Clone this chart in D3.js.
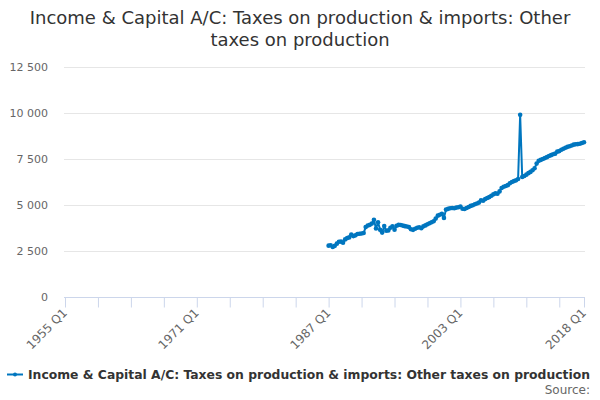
<!DOCTYPE html>
<html>
<head>
<meta charset="utf-8">
<script src="https://cdn.jsdelivr.net/npm/d3@7"></script>
<style>
    body { margin: 0; background: #fff; }
    text { font-family: "DejaVu Sans", sans-serif; }
</style>
</head>
<body>
<svg id="chart" width="600" height="400"></svg>
<script>
    // quarters 1955 Q1 .. 2018 Q1
    const years = d3.range(1955, 2019);
    const quarters = [];
    years.forEach((yr) => {
        ["Q1", "Q2", "Q3", "Q4"].forEach((q) => {
            if (yr < 2018 || q === "Q1") quarters.push(yr + " " + q);
        });
    });

    const firstQuarter = "1987 Q1";

    // values from 1987 Q1 onward (£ million)
    const values = [
        2790, 2810, 2720, 2780, 2900, 3000, 3010, 2950, 3130, 3200,
        3240, 3390, 3310, 3350, 3420, 3440, 3450, 3480, 3800, 3880,
        3920, 3990, 4200, 3720, 4060, 3650, 3500, 3860, 3600, 3620,
        3760, 3840, 3660, 3870, 3920, 3910, 3880, 3850, 3830, 3800,
        3680, 3650, 3710, 3760, 3790, 3740, 3840, 3890, 3950, 4010,
        4060, 4120, 4260, 4420, 4470, 4520, 4300, 4750, 4790, 4820,
        4840, 4820, 4860, 4880, 4920, 4800, 4780, 4840, 4890, 4950,
        4990, 5040, 5080, 5130, 5260, 5230, 5320, 5380, 5430, 5500,
        5580, 5630, 5610, 5740, 5920, 5990, 6030, 6080, 6180, 6250,
        6300, 6340, 6410, 9900, 6520, 6580, 6650, 6730, 6800, 6890,
        7000, 7250, 7400, 7450, 7500, 7550, 7600, 7660, 7710, 7760,
        7790, 7900, 7930, 8000, 8060, 8110, 8160, 8190, 8230, 8280,
        8300, 8310, 8330, 8370, 8410
    ];

    const yTicks = [0, 2500, 5000, 7500, 10000, 12500];
    const xLabels = ["1955 Q1", "1971 Q1", "1987 Q1", "2003 Q1", "2018 Q1"];

    const seriesName = "Income & Capital A/C: Taxes on production & imports: Other taxes on production";
    const titleLines = [
        "Income & Capital A/C: Taxes on production & imports: Other",
        "taxes on production"
    ];

    const start = quarters.indexOf(firstQuarter);
    const data = values.map((v, i) => ({ q: quarters[start + i], v: v }));

    const svg = d3.select("#chart");
    const plotLeft = 65, plotRight = 584, plotTop = 67, plotBottom = 297;
    const color = "#0076bf";

    const x = d3.scalePoint().domain(quarters).range([plotLeft, plotRight]);
    const y = d3.scaleLinear().domain([0, 12500]).range([plotBottom, plotTop]);

    // title
    svg.append("text")
        .attr("x", 300)
        .attr("y", 24)
        .attr("text-anchor", "middle")
        .style("font-size", "18px")
        .style("fill", "#333")
        .selectAll("tspan")
        .data(titleLines)
        .join("tspan")
        .attr("x", 300)
        .attr("dy", (d, i) => (i === 0 ? 0 : 22))
        .text((d) => d);

    // gridlines + y labels
    svg.append("g")
        .selectAll("line")
        .data(yTicks.filter((d) => d > 0))
        .join("line")
        .attr("x1", plotLeft - 1)
        .attr("x2", plotRight + 1)
        .attr("y1", (d) => Math.round(y(d)) + 0.5)
        .attr("y2", (d) => Math.round(y(d)) + 0.5)
        .attr("stroke", "#e6e6e6");

    const fmt = (d) => d3.format(",")(d).replace(/,/g, " ");
    svg.append("g")
        .selectAll("text")
        .data(yTicks)
        .join("text")
        .attr("x", 48)
        .attr("y", (d) => y(d) + 4)
        .attr("text-anchor", "end")
        .style("font-size", "11px")
        .style("fill", "#666")
        .text(fmt);

    // x axis
    const tickQuarters = quarters.filter((q, i) => i % 16 === 0 || i === quarters.length - 1);
    const xAxis = d3.axisBottom(x)
        .tickValues(tickQuarters)
        .tickSize(10)
        .tickFormat((d) => (xLabels.includes(d) ? d : ""));

    const gx = svg.append("g")
        .attr("transform", `translate(0,${plotBottom + 0.5})`)
        .call(xAxis);
    gx.select(".domain").attr("stroke", "#ccd6eb").attr("d", `M${plotLeft - 1},0H${plotRight + 1}`);
    gx.selectAll(".tick line").attr("stroke", "#ccd6eb");
    gx.selectAll(".tick text")
        .attr("text-anchor", "end")
        .attr("transform", "translate(-2,6) rotate(-45)")
        .attr("dy", "0.35em")
        .attr("y", 6)
        .attr("x", -4)
        .style("font-family", "DejaVu Sans, sans-serif")
        .style("font-size", "12px")
        .style("fill", "#666");

    // series line
    const line = d3.line()
        .x((d) => x(d.q))
        .y((d) => y(d.v));

    svg.append("path")
        .datum(data)
        .attr("d", line)
        .attr("fill", "none")
        .attr("stroke", color)
        .attr("stroke-width", 2)
        .attr("stroke-linejoin", "round");

    svg.append("g")
        .selectAll("circle")
        .data(data)
        .join("circle")
        .attr("cx", (d) => x(d.q))
        .attr("cy", (d) => y(d.v))
        .attr("r", 2.3)
        .attr("fill", color);

    // legend
    const lg = svg.append("g").attr("transform", "translate(0,374)");
    lg.append("line")
        .attr("x1", 7).attr("x2", 23)
        .attr("y1", 0.5).attr("y2", 0.5)
        .attr("stroke", color).attr("stroke-width", 2);
    lg.append("circle").attr("cx", 15).attr("cy", 0.5).attr("r", 2).attr("fill", color);
    lg.append("text")
        .attr("x", 28)
        .attr("y", 5)
        .style("font-size", "12px")
        .style("font-weight", "bold")
        .style("fill", "#333")
        .attr("textLength", 562)
        .attr("lengthAdjust", "spacingAndGlyphs")
        .text(seriesName);

    svg.append("text")
        .attr("x", 590)
        .attr("y", 394)
        .attr("text-anchor", "end")
        .style("font-size", "12px")
        .style("fill", "#666")
        .text("Source:");
</script>
</body>
</html>
